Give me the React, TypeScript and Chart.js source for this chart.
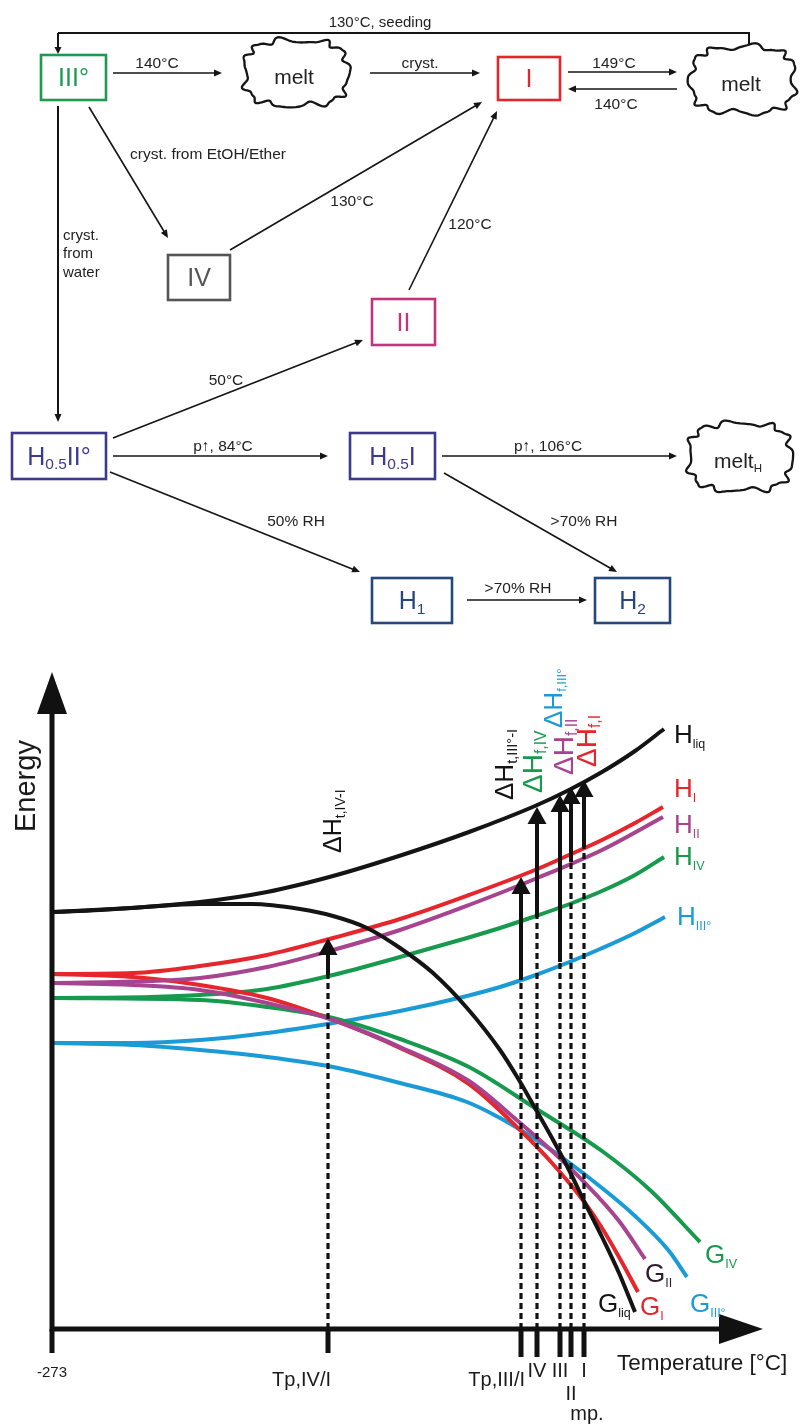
import React, { useEffect, useRef } from "react";
import { Chart, registerables } from "chart.js";

Chart.register(...registerables);

const FONT = "'Liberation Sans', Arial, Helvetica, sans-serif";

/* ===================== Top: relationship diagram ===================== */
const nodeNames = ["III°", "melt", "I", "melt", "IV", "II", "H_{0.5}II°", "H_{0.5}I", "melt_{H}", "H_{1}", "H_{2}"];
const nodeShape = ["box", "cloud", "box", "cloud", "box", "box", "box", "box", "cloud", "box", "box"];
const nodeColor = ["#1b9a50", "#222222", "#e2262b", "#222222", "#555555", "#c2357e", "#3d3a8e", "#3d3a8e", "#222222", "#25487c", "#25487c"];
// layout of the nodes (centre, size)
const nodeCX = [73.5, 296, 529, 743, 199, 403.5, 59, 392.5, 740, 412, 632.5];
const nodeCY = [77.5, 73, 78.5, 80, 277.5, 322, 456, 456, 457, 600.5, 600.5];
const nodeW = [65, 111, 62, 111, 62, 63, 94, 85, 110, 80, 75];
const nodeH = [45, 73, 43, 74, 45, 46, 46, 46, 75, 45, 45];

const edgeText = ["140°C", "cryst.", "149°C", "140°C", "cryst. from EtOH/Ether", "130°C", "120°C", "50°C", "p↑, 84°C", "p↑, 106°C", "50% RH", ">70% RH", ">70% RH"];
const edgeX1 = [113, 370, 568, 677, 89, 230, 409, 113, 113, 442, 110, 444, 467];
const edgeY1 = [73, 73, 72, 89, 107, 250, 290, 438, 456, 456, 472, 473, 600];
const edgeX2 = [222, 480, 677, 568, 168, 482, 497, 363, 328, 677, 360, 617, 587];
const edgeY2 = [73, 73, 72, 89, 238, 102, 111, 340, 456, 456, 572, 572, 600];
const edgeLX = [157, 420, 614, 616, 208, 352, 470, 226, 223, 548, 296, 584, 518];
const edgeLY = [62, 62, 62, 103, 153, 200, 223, 379, 445, 445, 520, 520, 587];

const seedText = "130°C, seeding";
const seedPathX = [749, 749, 58, 58];
const seedPathY = [45, 33, 33, 54];
const waterText = ["cryst.", "from", "water"];
const waterPathX = [58, 58];
const waterPathY = [106, 422];

/* ===================== Bottom: energy–temperature diagram ===================== */
// temperature axis in arbitrary units (0 = -273 °C), energy in arbitrary units
const T_MAX = 711;
const E_MAX = 657;

const hLiqT = [0, 48, 148, 215, 281, 350, 417, 483, 517, 550, 583, 612];
const hLiqE = [417, 419, 427, 437, 453, 474, 497, 523, 539, 557, 578, 600];
const gLiqT = [0, 80, 148, 200, 248, 281, 315, 348, 381, 415, 448, 467, 483, 500, 517, 533, 550, 567, 583];
const gLiqE = [417, 421, 425, 425, 420, 413, 401, 381, 356, 321, 279, 249, 221, 191, 159, 126, 92, 56, 17];
const hIT = [0, 81, 148, 215, 281, 348, 417, 483, 517, 550, 583, 611];
const hIE = [355, 356, 363, 374, 391, 410, 434, 459, 474, 489, 506, 522];
const gIT = [0, 81, 148, 215, 281, 348, 417, 467, 500, 533, 550, 567, 586];
const gIE = [355, 352, 344, 331, 309, 281, 245, 200, 166, 126, 101, 72, 37];
const hIIT = [0, 98, 148, 215, 281, 348, 417, 483, 550, 611];
const hIIE = [346, 348, 351, 362, 379, 399, 424, 450, 479, 512];
const gIIT = [0, 81, 148, 215, 281, 348, 417, 467, 500, 533, 567, 593];
const gIIE = [346, 344, 339, 326, 309, 282, 248, 207, 178, 146, 108, 70];
const hIVT = [0, 98, 148, 215, 281, 348, 415, 448, 481, 515, 550, 583, 612];
const hIVE = [331, 332, 334, 340, 354, 372, 391, 401, 412, 424, 438, 454, 472];
const gIVT = [0, 148, 215, 281, 348, 417, 483, 550, 598, 648];
const gIVE = [331, 329, 322, 311, 290, 262, 221, 178, 139, 87];
const hIIIT = [0, 81, 148, 215, 281, 348, 415, 448, 481, 515, 548, 581, 613];
const hIIIE = [286, 286, 289, 296, 306, 318, 333, 342, 353, 366, 380, 395, 412];
const gIIIT = [0, 81, 148, 215, 281, 348, 415, 448, 483, 515, 550, 583, 617, 635];
const gIIIE = [286, 284, 279, 272, 262, 246, 227, 211, 190, 168, 141, 113, 78, 52];

// transition / melting points and their enthalpy arrows
const transT = [276, 469, 485, 508, 519, 532];
const transFrom = [354, 349, 412, 367, 467, 482];
const transTo = [391, 452, 522, 534, 542, 549];
const transLabel = ["ΔH_{t,IV-I}", "ΔH_{t,III°-I}", "ΔH_{f,IV}", "ΔH_{f,III°}", "ΔH_{f,II}", "ΔH_{f,I}"];

const tickT = [0, 276, 469, 485, 508, 519, 532];
const tickText = ["-273", "Tp,IV/I", "Tp,III/I", "IV", "III", "II", "I"];
const mpText = "mp.";
const xTitle = "Temperature [°C]";
const yTitle = "Energy";

const curveLabel = ["H_{liq}", "H_{I}", "H_{II}", "H_{IV}", "H_{III°}", "G_{IV}", "G_{II}", "G_{liq}", "G_{I}", "G_{III°}"];

const C_BLACK = "#141414";
const C_RED = "#e5262c";
const C_PURPLE = "#a7438f";
const C_GREEN = "#179a4e";
const C_BLUE = "#1b9bd6";

/* ===================== helpers ===================== */
type Seg = { t: string; sub: boolean };
function parseRich(s: string): Seg[] {
  const out: Seg[] = [];
  const re = /_\{([^}]*)\}/g;
  let last = 0;
  let m: RegExpExecArray | null;
  while ((m = re.exec(s))) {
    if (m.index > last) out.push({ t: s.slice(last, m.index), sub: false });
    out.push({ t: m[1], sub: true });
    last = re.lastIndex;
  }
  if (last < s.length) out.push({ t: s.slice(last), sub: false });
  return out;
}

function drawRich(
  ctx: CanvasRenderingContext2D, s: string, x: number, y: number, size: number, color: string,
  align: "left" | "center" | "right" = "center", middle = true, subScale = 0.6, subDrop = 0.22
) {
  const segs = parseRich(s);
  ctx.save();
  ctx.fillStyle = color;
  ctx.textAlign = "left";
  ctx.textBaseline = "alphabetic";
  let w = 0;
  for (const sg of segs) {
    ctx.font = `${sg.sub ? size * subScale : size}px ${FONT}`;
    w += ctx.measureText(sg.t).width;
  }
  let cx = align === "left" ? x : align === "center" ? x - w / 2 : x - w;
  const by = middle ? y + size * 0.358 : y;
  for (const sg of segs) {
    ctx.font = `${sg.sub ? size * subScale : size}px ${FONT}`;
    ctx.fillText(sg.t, cx, sg.sub ? by + size * subDrop : by);
    cx += ctx.measureText(sg.t).width;
  }
  ctx.restore();
}

function arrowLine(
  ctx: CanvasRenderingContext2D, x1: number, y1: number, x2: number, y2: number,
  lw: number, headLen: number, headHalf: number, color: string
) {
  const a = Math.atan2(y2 - y1, x2 - x1);
  const bx = x2 - headLen * Math.cos(a);
  const by = y2 - headLen * Math.sin(a);
  ctx.save();
  ctx.strokeStyle = color;
  ctx.lineWidth = lw;
  ctx.beginPath();
  ctx.moveTo(x1, y1);
  ctx.lineTo(bx + Math.cos(a) * 1, by + Math.sin(a) * 1);
  ctx.stroke();
  ctx.fillStyle = color;
  ctx.beginPath();
  ctx.moveTo(x2, y2);
  ctx.lineTo(bx + headHalf * Math.sin(a), by - headHalf * Math.cos(a));
  ctx.lineTo(bx - headHalf * Math.sin(a), by + headHalf * Math.cos(a));
  ctx.closePath();
  ctx.fill();
  ctx.restore();
}

function drawCloud(ctx: CanvasRenderingContext2D, cx: number, cy: number, w: number, h: number, seed: number) {
  ctx.save();
  ctx.beginPath();
  const N = 300;
  for (let i = 0; i <= N; i++) {
    const th = (i / N) * Math.PI * 2;
    const c = Math.cos(th), s = Math.sin(th);
    const n = 3;
    const bx = Math.sign(c) * Math.pow(Math.abs(c), 2 / n) * (w / 2 - 4);
    const by = Math.sign(s) * Math.pow(Math.abs(s), 2 / n) * (h / 2 - 4);
    const len = Math.hypot(bx, by) || 1;
    const wob = 2.8 * Math.sin(11 * th + seed) + 1.3 * Math.sin(19 * th + seed * 2.1);
    const px = cx + bx + (bx / len) * wob;
    const py = cy + by + (by / len) * wob;
    if (i === 0) ctx.moveTo(px, py);
    else ctx.lineTo(px, py);
  }
  ctx.closePath();
  ctx.fillStyle = "#fff";
  ctx.fill();
  ctx.lineWidth = 2.3;
  ctx.strokeStyle = "#151515";
  ctx.lineJoin = "round";
  ctx.stroke();
  ctx.restore();
}

/* ===================== plugins ===================== */
const diagramPlugin = {
  id: "diagramDecor",
  afterDraw(chart: any) {
    const ctx: CanvasRenderingContext2D = chart.ctx;
    const X = (v: number) => chart.scales.x.getPixelForValue(v);
    const Y = (v: number) => chart.scales.y.getPixelForValue(v);
    ctx.save();
    // seeding loop
    ctx.strokeStyle = "#151515";
    ctx.lineWidth = 2;
    ctx.beginPath();
    for (let i = 0; i < seedPathX.length - 1; i++) {
      if (i === 0) ctx.moveTo(X(seedPathX[i]), Y(seedPathY[i]));
      else ctx.lineTo(X(seedPathX[i]), Y(seedPathY[i]));
    }
    ctx.stroke();
    const nS = seedPathX.length;
    arrowLine(ctx, X(seedPathX[nS - 2]), Y(seedPathY[nS - 2]), X(seedPathX[nS - 1]), Y(seedPathY[nS - 1]), 2, 7, 3.5, "#151515");
    drawRich(ctx, seedText, X(380), Y(22), 15, "#222");
    // crystallisation from water
    arrowLine(ctx, X(waterPathX[0]), Y(waterPathY[0]), X(waterPathX[1]), Y(waterPathY[1]), 2, 8, 3.5, "#151515");
    waterText.forEach((t, i) => drawRich(ctx, t, X(63), Y([235, 253, 272][i]), 15, "#222", "left"));
    // edges
    edgeText.forEach((t, i) => {
      arrowLine(ctx, X(edgeX1[i]), Y(edgeY1[i]), X(edgeX2[i]), Y(edgeY2[i]), 1.6, 8, 3.5, "#151515");
      drawRich(ctx, t, X(edgeLX[i]), Y(edgeLY[i]), 15.5, "#222");
    });
    // nodes
    nodeNames.forEach((name, i) => {
      const cx = X(nodeCX[i]), cy = Y(nodeCY[i]);
      const w = nodeW[i], h = nodeH[i];
      if (nodeShape[i] === "cloud") {
        drawCloud(ctx, cx, cy, w, h, i * 1.7);
        drawRich(ctx, name, cx - 2, cy + 3, 21, "#222", "center", true, 0.55, 0.2);
      } else {
        ctx.fillStyle = "#fff";
        ctx.fillRect(cx - w / 2, cy - h / 2, w, h);
        ctx.strokeStyle = nodeColor[i];
        ctx.lineWidth = 2.6;
        ctx.strokeRect(cx - w / 2, cy - h / 2, w, h);
        drawRich(ctx, name, cx, cy, 25, nodeColor[i], "center", true, 0.62, 0.18);
      }
    });
    ctx.restore();
  },
};

const energyPlugin = {
  id: "energyDecor",
  afterDatasetsDraw(chart: any) {
    const ctx: CanvasRenderingContext2D = chart.ctx;
    const xs = chart.scales.x, ys = chart.scales.y;
    const X = (v: number) => xs.getPixelForValue(v);
    const Y = (v: number) => ys.getPixelForValue(v);
    const ox = X(0), oy = Y(0);
    ctx.save();
    // transition lines: dashed below, enthalpy arrow above
    transT.forEach((t, i) => {
      const x = X(t);
      ctx.save();
      ctx.strokeStyle = "#111";
      ctx.lineWidth = 3.2;
      ctx.setLineDash([6, 4]);
      ctx.beginPath();
      ctx.moveTo(x, oy);
      ctx.lineTo(x, Y(transFrom[i]));
      ctx.stroke();
      ctx.restore();
      arrowLine(ctx, x, Y(transFrom[i]), x, Y(transTo[i]), 4, 17, 9.5, "#111");
    });
    // axes
    ctx.fillStyle = "#111";
    ctx.strokeStyle = "#111";
    ctx.lineWidth = 5;
    ctx.beginPath();
    ctx.moveTo(ox, oy + 2.5);
    ctx.lineTo(ox, ys.top + 38);
    ctx.moveTo(ox - 2.5, oy);
    ctx.lineTo(xs.right - 40, oy);
    ctx.stroke();
    ctx.beginPath();
    ctx.moveTo(ox, ys.top);
    ctx.lineTo(ox - 15, ys.top + 42);
    ctx.lineTo(ox + 15, ys.top + 42);
    ctx.closePath();
    ctx.fill();
    ctx.beginPath();
    ctx.moveTo(xs.right, oy);
    ctx.lineTo(xs.right - 44, oy - 15);
    ctx.lineTo(xs.right - 44, oy + 15);
    ctx.closePath();
    ctx.fill();
    // ticks and their labels
    const tickAlign: ("left" | "center" | "right")[] = ["center", "right", "right", "center", "center", "center", "center"];
    const tickDx = [0, 3, 4, 0, 0, 0, 0];
    const tickDy = [43, 50, 50, 41, 41, 64, 41];
    const tickLen = [24, 24, 28, 28, 28, 28, 28];
    tickT.forEach((t, i) => {
      const x = X(t);
      ctx.fillRect(x - 2.5, oy, 5, tickLen[i]);
      drawRich(ctx, tickText[i], x + tickDx[i], oy + tickDy[i], i === 0 ? 15 : 20, "#1a1a1a", tickAlign[i]);
    });
    drawRich(ctx, mpText, X(535), oy + 84, 20, "#1a1a1a");
    drawRich(ctx, xTitle, X(565), oy + 33, 22.5, "#1a1a1a", "left");
    // y title (rotated)
    ctx.save();
    ctx.translate(X(-17), Y(497));
    ctx.rotate(-Math.PI / 2);
    drawRich(ctx, yTitle, 0, 0, 29, "#1a1a1a", "left", false);
    ctx.restore();
    // enthalpy labels (rotated)
    const tlX = [289, 461, 490, 510, 521, 544];
    const tlY = [476, 529, 536, 601, 554, 562];
    const tlC = [C_BLACK, C_BLACK, C_GREEN, C_BLUE, C_PURPLE, C_RED];
    const tlS = [25, 26, 28, 26, 28, 28];
    transLabel.forEach((s, i) => {
      ctx.save();
      ctx.translate(X(tlX[i]), Y(tlY[i]));
      ctx.rotate(-Math.PI / 2);
      drawRich(ctx, s, 0, 0, tlS[i], tlC[i], "left", false, i === 3 ? 0.5 : 0.56, 0.14);
      ctx.restore();
    });
    // curve labels
    const clX = [622, 622, 622, 622, 625, 653, 593, 546, 588, 638];
    const clY = [586, 532, 496, 464, 404, 66, 47, 17, 14, 17];
    const clC = [C_BLACK, C_RED, C_PURPLE, C_GREEN, C_BLUE, C_GREEN, "#2e1b2c", C_BLACK, C_RED, C_BLUE];
    curveLabel.forEach((s, i) => {
      drawRich(ctx, s, X(clX[i]), Y(clY[i]), 26, clC[i], "left", false, 0.48, 0.18);
    });
    ctx.restore();
  },
};

function series(t: number[], e: number[]) {
  return t.map((x, i) => ({ x, y: e[i] }));
}

export default function App() {
  const topRef = useRef<HTMLCanvasElement | null>(null);
  const botRef = useRef<HTMLCanvasElement | null>(null);

  useEffect(() => {
    const top = new Chart(topRef.current as HTMLCanvasElement, {
      type: "scatter",
      data: {
        datasets: [
          {
            data: series(nodeCX, nodeCY),
            pointRadius: 0,
            showLine: false,
          },
        ],
      },
      options: {
        responsive: false,
        animation: false,
        events: [],
        layout: { padding: 0 },
        plugins: { legend: { display: false }, tooltip: { enabled: false } },
        scales: {
          x: { type: "linear", min: 0, max: 804, display: false },
          y: { type: "linear", min: 0, max: 650, reverse: true, display: false },
        },
      },
      plugins: [diagramPlugin],
    } as any);

    const mk = (label: string, t: number[], e: number[], color: string) => ({
      label,
      data: series(t, e),
      borderColor: color,
      borderWidth: 4,
      pointRadius: 0,
      showLine: true,
      fill: false,
      cubicInterpolationMode: "monotone",
      borderCapStyle: "butt",
    });

    const bot = new Chart(botRef.current as HTMLCanvasElement, {
      type: "scatter",
      data: {
        datasets: [
          mk("G_liq", gLiqT, gLiqE, C_BLACK),
          mk("H_liq", hLiqT, hLiqE, C_BLACK),
          mk("H_II", hIIT, hIIE, C_PURPLE),
          mk("G_II", gIIT, gIIE, C_PURPLE),
          mk("H_I", hIT, hIE, C_RED),
          mk("G_I", gIT, gIE, C_RED),
          mk("H_IV", hIVT, hIVE, C_GREEN),
          mk("G_IV", gIVT, gIVE, C_GREEN),
          mk("H_III°", hIIIT, hIIIE, C_BLUE),
          mk("G_III°", gIIIT, gIIIE, C_BLUE),
        ],
      },
      options: {
        responsive: false,
        animation: false,
        events: [],
        layout: { padding: { left: 52, right: 41, top: 22, bottom: 96 } },
        plugins: { legend: { display: false }, tooltip: { enabled: false } },
        scales: {
          x: { type: "linear", min: 0, max: T_MAX, display: false },
          y: { type: "linear", min: 0, max: E_MAX, display: false },
        },
      },
      plugins: [energyPlugin],
    } as any);

    return () => {
      top.destroy();
      bot.destroy();
    };
  }, []);

  return (
    <div style={{ position: "absolute", left: 0, top: 0, width: 804, height: 1425, background: "#fff" }}>
      <canvas ref={topRef} width={804} height={650} style={{ display: "block" }} />
      <canvas ref={botRef} width={804} height={775} style={{ display: "block" }} />
    </div>
  );
}
